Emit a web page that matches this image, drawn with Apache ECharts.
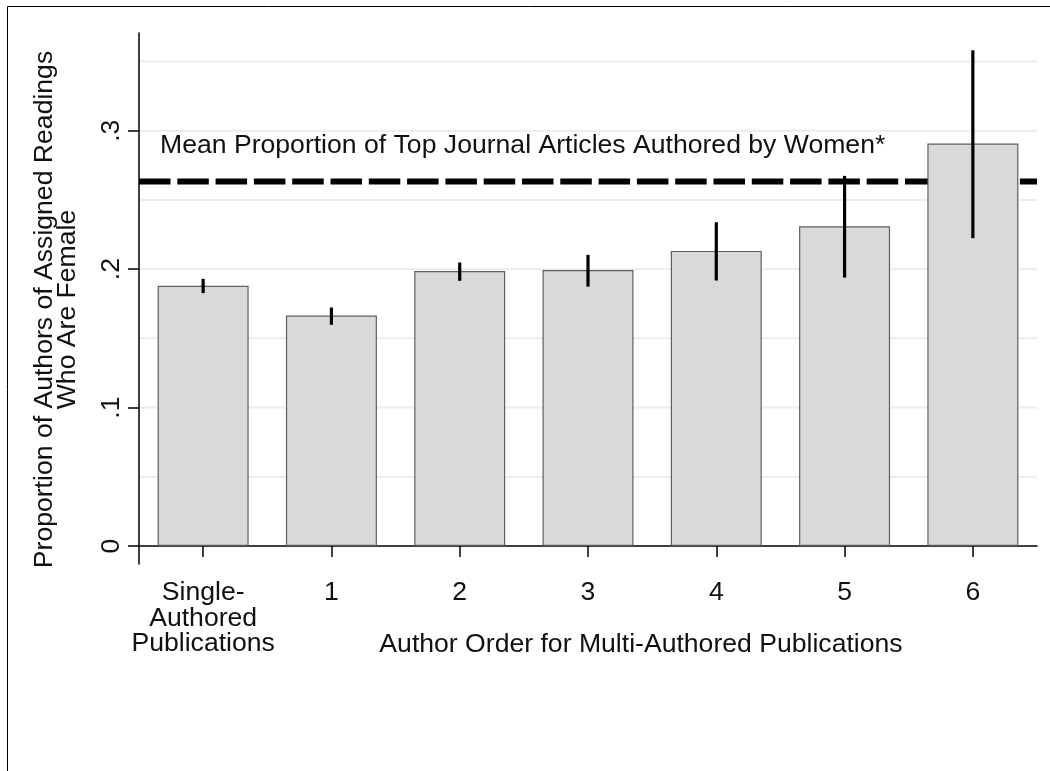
<!DOCTYPE html>
<html>
<head>
<meta charset="utf-8">
<script src="https://cdn.jsdelivr.net/npm/echarts@6/dist/echarts.min.js"></script>
<style>
  html, body { margin: 0; padding: 0; background: #fff; }
  #chart { width: 1050px; height: 771px; }
</style>
</head>
<body>
<div id="chart"></div>
<script>
// Share of female authors among assigned readings, by author position
const categories = ['Single-\nAuthored\nPublications', '1', '2', '3', '4', '5', '6'];
const proportions = [0.188, 0.1665, 0.1986, 0.1993, 0.2132, 0.2310, 0.2907];
const ciLow  = [0.1827, 0.1598, 0.1916, 0.1874, 0.1918, 0.1939, 0.2224];
const ciHigh = [0.1930, 0.1723, 0.2048, 0.2103, 0.2339, 0.2674, 0.3581];

// Benchmark: share of top-journal articles written by women
const benchmark = 0.2633;
const benchmarkLabel = 'Mean Proportion of Top Journal Articles Authored by Women*';

// Axis ticks and grid
const yTickValues = [0, 0.1, 0.2, 0.3];
const yTickLabels = ['0', '.1', '.2', '.3'];
const gridValues = [0.05, 0.1, 0.15, 0.2, 0.25, 0.3, 0.35];
const yMin = -0.013;
const yMax = 0.3706;

const yTitle = 'Proportion of Authors of Assigned Readings\nWho Are Female';
const xTitle = 'Author Order for Multi-Authored Publications';

const FONT = '"Liberation Sans", Arial, Helvetica, sans-serif';
const FS = 26.6;

// A horizontal rule across the whole plotting area at a data value
function horizontalRule(lineStyle) {
  return function (params, api) {
    const cs = params.coordSys;
    const y = api.coord([0, api.value(1)])[1];
    return {
      type: 'line',
      shape: { x1: cs.x, y1: y, x2: cs.x + cs.width, y2: y },
      style: lineStyle
    };
  };
}

const chart = echarts.init(document.getElementById('chart'), null, { renderer: 'canvas' });

chart.setOption({
  backgroundColor: '#ffffff',
  animation: false,
  textStyle: { fontFamily: FONT },
  grid: { left: 139, right: 13, top: 33, bottom: 207, containLabel: false, outerBoundsMode: 'none' },
  xAxis: {
    type: 'category',
    data: categories,
    boundaryGap: true,
    axisLine: { show: true, lineStyle: { color: '#000', width: 1.5 } },
    axisTick: { show: true, alignWithLabel: true, length: 11, lineStyle: { color: '#000', width: 1.5 } },
    axisLabel: {
      show: true, interval: 0, margin: 16,
      color: '#111', fontFamily: FONT, fontSize: FS, lineHeight: 25.5, align: 'center'
    },
    splitLine: { show: false }
  },
  yAxis: {
    type: 'value',
    min: yMin,
    max: yMax,
    axisLine: { show: true, lineStyle: { color: '#000', width: 1.5 } },
    axisTick: { show: true, length: 11, customValues: yTickValues, lineStyle: { color: '#000', width: 1.5 } },
    axisLabel: {
      show: true, rotate: 90, margin: 14, customValues: yTickValues,
      color: '#111', fontFamily: FONT, fontSize: FS,
      formatter: function (v) {
        for (let i = 0; i < yTickValues.length; i++) {
          if (Math.abs(yTickValues[i] - v) < 1e-9) return yTickLabels[i];
        }
        return '';
      }
    },
    splitLine: { show: false }
  },
  series: [
    {
      // light horizontal grid, under everything else
      type: 'custom',
      z: 0,
      silent: true,
      data: gridValues.map(v => [0, v]),
      encode: { x: 0, y: 1 },
      renderItem: horizontalRule({ stroke: '#e6eef1', lineWidth: 2 })
    },
    {
      // benchmark dashed line, hidden behind the bars where they cross it
      type: 'custom',
      z: 1,
      silent: true,
      data: [[0, benchmark]],
      encode: { x: 0, y: 1 },
      renderItem: horizontalRule({ stroke: '#000', lineWidth: 6, lineDash: [31.5, 6.8], lineCap: 'butt' })
    },
    {
      type: 'bar',
      data: proportions,
      barWidth: 91,
      z: 2,
      itemStyle: { color: '#d9d9d9', borderColor: '#5f5f5f', borderWidth: 1.2 }
    },
    {
      // confidence intervals
      type: 'custom',
      z: 3,
      data: categories.map((c, i) => [i, ciLow[i], ciHigh[i]]),
      renderItem: function (params, api) {
        const lo = api.coord([api.value(0), api.value(1)]);
        const hi = api.coord([api.value(0), api.value(2)]);
        return {
          type: 'line',
          shape: { x1: lo[0], y1: lo[1], x2: hi[0], y2: hi[1] },
          style: { stroke: '#000', lineWidth: 3.2 }
        };
      }
    }
  ],
  graphic: [
    {
      // outer frame around the figure
      type: 'rect',
      shape: { x: 7.5, y: 6.5, width: 1100, height: 800 },
      style: { fill: 'none', stroke: '#000', lineWidth: 1 },
      silent: true, z: -10
    },
    {
      type: 'text',
      x: 160, y: 146,
      style: {
        text: benchmarkLabel, fill: '#111', font: FS + 'px ' + FONT,
        textAlign: 'left', textVerticalAlign: 'middle'
      },
      z: 10
    },
    {
      type: 'text',
      x: 641, y: 645,
      style: {
        text: xTitle, fill: '#111', font: FS + 'px ' + FONT,
        textAlign: 'center', textVerticalAlign: 'middle'
      }
    },
    {
      type: 'text',
      x: 56, y: 309.5,
      rotation: Math.PI / 2,
      style: {
        text: yTitle, fill: '#111', font: FS + 'px ' + FONT, lineHeight: 23,
        textAlign: 'center', textVerticalAlign: 'middle'
      }
    }
  ]
});
</script>
</body>
</html>
